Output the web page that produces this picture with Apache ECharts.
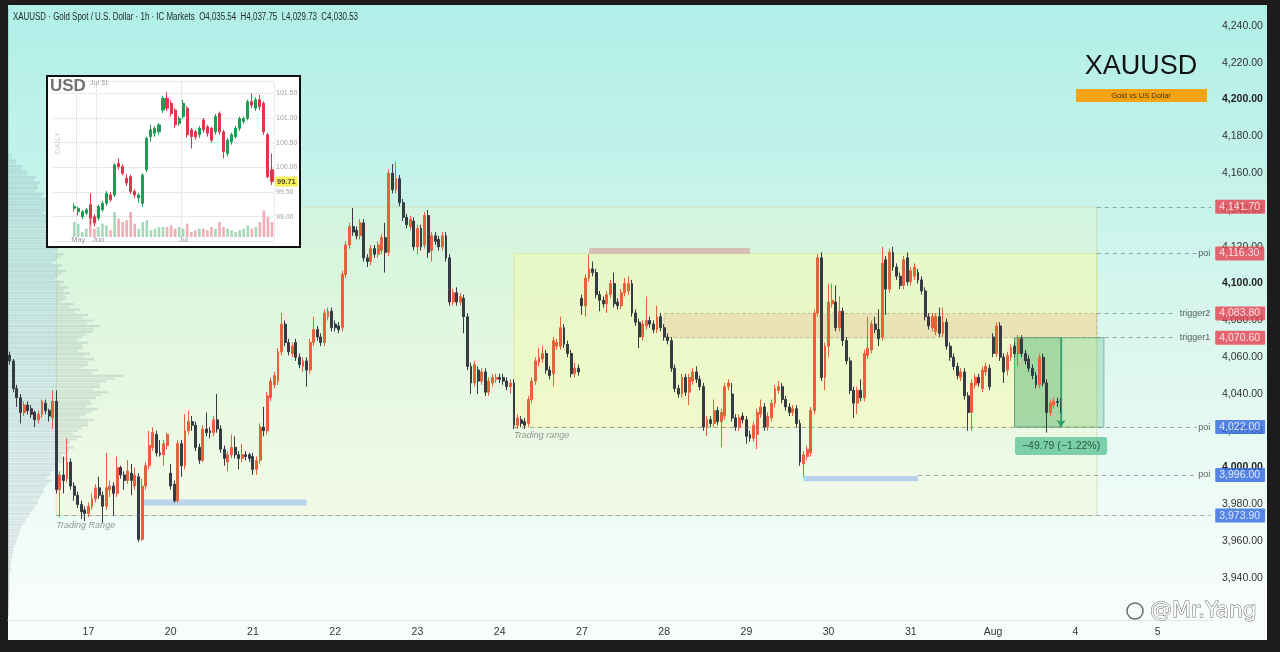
<!DOCTYPE html>
<html><head><meta charset="utf-8">
<script src="https://cdn.jsdelivr.net/npm/echarts/dist/echarts.min.js"></script>
<style>html,body{margin:0;padding:0;background:#1c1c1c;}#c{width:1280px;height:652px;}</style>
</head><body><div id="c"></div>
<script>
// ---------- DATA ----------
const days = ['16','17','20','21','22','23','24','27','28','29','30','31','Aug','4','5'];
const HOURS_PER_DAY = 23;
// hourly candles [open, close, low, high]
const d16 = [[4061,4058,4056,4063],[4058,4043,4041,4059],[4043,4038,4033,4045],[4038,4030,4024,4040],[4030,4034,4028,4036],[4034,4031,4029,4036],[4032,4029,4027,4034],[4030,4026,4022,4031],[4026,4029,4024,4031],[4029,4036,4027,4037],[4035,4031,4029,4037],[4031,4028,4025,4032],[4027,4036,4021,4042],[4036,3988,3986,4042],[3988,3996,3973,3998],[3996,3993,3986,4006],[3994,4003,3992,4016],[4003,3990,3988,4005],[3990,3985,3982,3992],[3985,3980,3978,3987],[3980,3976,3972,3982],[3977,3975,3971,3979]];
const d17 = [[3975,3979,3973,3981],[3979,3983,3977,3986],[3983,3989,3981,3991],[3989,3985,3983,3995],[3985,3979,3970,3987],[3979,3989,3977,4008],[3988,3990,3984,3993],[3990,3986,3974,3992],[3986,4000,3984,4006],[4000,3996,3994,4001],[3996,3993,3988,3998],[3993,3998,3991,4004],[3997,3993,3985,4002],[3990,3996,3988,4000],[3995,3961,3959.7,3997],[3961,3990,3960,3994],[3990,4001,3988,4003],[4001,4012,3999,4020],[4011,4019,4009,4022],[4018,4008,4006,4020],[4008,4007,4006,4015],[4007,4013,4001,4015],[4012,4018,4010,4019]];
const d20 = [[3997,3990,3988,4002],[3991,3982,3981,3993],[3982,4013,3981,4015],[4013,4001,3995,4015],[4001,4020,3999,4029],[4020,4025,4018,4031],[4025,4023,4020,4028],[4023,4011,4009,4025],[4011,4004,4002,4013],[4004,4021,4003,4023],[4021,4019,4017,4030],[4020,4019,4016,4022],[4019,4026,4017,4028],[4026,4021,4019,4040],[4021,4010,4008,4023],[4010,4005,4001,4012],[4003,4007,3998,4009],[4007,4011,4005,4018],[4011,4007,4005,4017],[4007,4005,3999,4009],[4005,4007,4003,4013],[4007,4006,4004,4009],[4007,4005,4003,4008]];
const d21 = [[4006,3999,3996,4008],[3999,4004,3996,4006],[4004,4022,4002,4024],[4022,4020,4017,4033],[4020,4039,4018,4041],[4038,4047,4036,4049],[4045,4050,4043,4052],[4047,4063,4045,4065],[4063,4078,4061,4084],[4078,4068,4066,4080],[4068,4063,4061,4070],[4062,4066,4060,4068],[4068,4060,4058,4070],[4060,4056,4054,4062],[4055,4058,4052,4060],[4058,4053,4044,4060],[4053,4068,4051,4070],[4068,4075,4066,4082],[4075,4071,4069,4077],[4071,4068,4066,4073],[4068,4084,4066,4086],[4082,4085,4080,4087],[4085,4076,4074,4087]];
const d22 = [[4078,4076,4074,4080],[4077,4075,4073,4079],[4076,4105,4074,4107],[4105,4121,4103,4123],[4121,4131,4119,4133],[4131,4128,4126,4141],[4129,4126,4124,4131],[4126,4133,4124,4135],[4133,4114,4112,4135],[4114,4112,4109,4116],[4112,4119,4110,4121],[4119,4116,4114,4121],[4116,4121,4114,4123],[4118,4125,4116,4127],[4125,4117,4106,4133],[4117,4160,4115,4162],[4160,4151,4149,4165],[4151,4157,4149,4166],[4157,4144,4142,4159],[4144,4136,4134,4146],[4136,4132,4130,4138],[4131,4135,4129,4137],[4134,4120,4118,4136]];
const d23 = [[4120,4130,4116,4132],[4130,4120,4118,4132],[4121,4137,4119,4139],[4137,4117,4114,4140],[4118,4126,4112,4128],[4126,4123,4121,4128],[4124,4120,4118,4126],[4120,4126,4118,4128],[4126,4114,4112,4128],[4114,4090,4088,4116],[4090,4095,4088,4097],[4095,4090,4088,4098],[4090,4093,4088,4095],[4092,4082,4073,4094],[4082,4055,4053,4084],[4055,4046,4040,4057],[4046,4056,4044,4058],[4053,4047,4040,4055],[4047,4052,4045,4054],[4052,4041,4039,4054],[4041,4047,4039,4049],[4046,4049,4044,4051],[4048,4049,4046,4051]];
const d24 = [[4049,4048,4046,4051],[4049,4047,4045,4051],[4047,4044,4042,4049],[4044,4046,4040,4048],[4046,4023,4021,4048],[4023,4027,4021,4029],[4026,4024,4022,4028],[4025,4023,4021,4027],[4024,4037,4022,4039],[4037,4047,4035,4049],[4047,4058,4045,4060],[4057,4060,4055,4065],[4059,4062,4057,4066],[4062,4053,4051,4064],[4053,4050,4048,4055],[4051,4069,4044,4071],[4066,4068,4064,4070],[4066,4076,4064,4082],[4076,4067,4065,4078],[4067,4062,4060,4069],[4062,4051,4049,4064],[4051,4054,4049,4057],[4054,4052,4050,4056]];
const d27 = [[4092,4088,4083,4094],[4088,4103,4082,4105],[4103,4108,4101,4116],[4108,4106,4104,4112],[4106,4094,4092,4108],[4094,4091,4085,4096],[4091,4089,4087,4093],[4089,4094,4084,4096],[4094,4100,4092,4102],[4100,4089,4087,4106],[4090,4088,4086,4092],[4088,4095,4086,4097],[4095,4100,4093,4103],[4096,4100,4094,4104],[4100,4084,4082,4102],[4084,4079,4077,4086],[4079,4071,4065,4081],[4071,4078,4069,4080],[4077,4080,4075,4093],[4080,4078,4076,4082],[4078,4075,4073,4080],[4075,4082,4073,4088],[4082,4076,4074,4084]];
const d28 = [[4076,4071,4069,4078],[4071,4069,4067,4073],[4069,4054,4052,4071],[4054,4043,4041,4056],[4043,4040,4038,4045],[4040,4049,4038,4051],[4049,4041,4039,4051],[4041,4049,4034,4051],[4047,4052,4045,4054],[4052,4048,4046,4055],[4048,4044,4042,4050],[4044,4022,4020,4046],[4022,4026,4017,4028],[4026,4024,4022,4028],[4024,4031,4022,4037],[4031,4025,4023,4033],[4025,4030,4011,4032],[4028,4044,4026,4046],[4044,4046,4042,4048],[4040,4027,4025,4046],[4027,4022,4020,4029],[4022,4027,4020,4029],[4028,4026,4024,4030]];
const d29 = [[4026,4017,4013,4028],[4018,4016,4014,4020],[4016,4023,4014,4025],[4018,4030,4010,4032],[4029,4033,4027,4037],[4033,4022,4020,4035],[4022,4028,4020,4030],[4027,4035,4025,4037],[4035,4043,4033,4045],[4042,4044,4040,4047],[4044,4037,4035,4046],[4037,4033,4031,4039],[4033,4030,4028,4035],[4030,4032,4028,4034],[4032,4024,4022,4034],[4024,4003,4001,4026],[4002,4007,3995,4009],[4006,4010,4004,4012],[4008,4031,4006,4033],[4031,4084,4029,4086],[4084,4114,4082,4116],[4114,4049,4047,4117],[4049,4066,4042,4068]];
const d30 = [[4066,4090,4060,4100],[4089,4091,4087,4100],[4090,4076,4074,4099],[4076,4085,4074,4093],[4085,4069,4066,4087],[4069,4058,4056,4071],[4058,4042,4040,4060],[4042,4035,4027,4044],[4035,4042,4029,4044],[4042,4038,4036,4048],[4038,4062,4036,4064],[4061,4065,4059,4082],[4064,4078,4062,4080],[4078,4075,4073,4082],[4075,4070,4066,4086],[4071,4111,4069,4120],[4113,4097,4083,4115],[4097,4117,4095,4119],[4117,4109,4107,4120],[4109,4104,4102,4111],[4104,4099,4097,4106],[4099,4113,4097,4115],[4114,4101,4099,4117]];
const d31 = [[4101,4107,4099,4109],[4104,4109,4102,4111],[4106,4102,4100,4108],[4102,4096,4094,4104],[4096,4082,4080,4098],[4082,4077,4075,4084],[4076,4082,4074,4084],[4074,4082,4072,4084],[4082,4073,4071,4087],[4073,4079,4071,4087],[4079,4066,4064,4081],[4066,4060,4058,4068],[4060,4055,4053,4062],[4055,4050,4048,4057],[4049,4052,4047,4054],[4052,4039,4037,4054],[4039,4030,4020,4041],[4030,4046,4020,4048],[4045,4049,4043,4051],[4049,4046,4044,4051],[4043,4053,4041,4055],[4052,4055,4050,4057],[4054,4044,4042,4056]];
const dAug = [[4071,4062,4060,4073],[4062,4077,4060,4079],[4077,4060,4058,4079],[4060,4052,4046,4062],[4053,4061,4050,4063],[4060,4065,4058,4067],[4066,4062,4060,4068],[4062,4070,4055,4072],[4070,4062,4060,4072],[4062,4058,4056,4064],[4059,4054,4052,4061],[4054,4050,4048,4056],[4050,4045,4043,4052],[4045,4060,4043,4062],[4060,4046,4044,4062],[4046,4030,4019,4048],[4030,4035,4028,4037],[4034,4036,4032,4038],[4036,4035.5,4033,4038],[4035.54,4030.53,4029.73,4037.75]];

// key levels
const levelPrices = [4141.70, 4116.30, 4083.80, 4070.60, 4022.00, 3996.00, 3973.90];
const levelTags   = ['', 'poi', 'trigger2', 'trigger1', 'poi', 'poi', ''];
const levelSides  = ['up','up','up','up','down','down','down'];
const levelFrom   = [304, 304, 304, 304, 141, 254, 13];

// measure tool
const measureText = '\u221249.79 (\u22121.22%)';

// volume profile (price level, volume)
const profileLevels = [4169,4166,4163,4160,4157,4154,4151,4148,4145,4142,4139,4136,4133,4130,4127,4124,4121,4118,4115,4112,4109,4106,4103,4100,4097,4094,4091,4088,4085,4082,4079,4076,4073,4070,4067,4064,4061,4058,4055,4052,4049,4046,4043,4040,4037,4034,4031,4028,4025,4022,4019,4016,4013,4010,4007,4004,4001,3998,3995,3992,3989,3986,3983,3980,3977,3974,3971,3968,3965,3962,3959,3956,3953,3950,3947,3944,3941,3938,3935,3932,3929,3926];
const profileVolume = [4,8,14,20,28,32,30,36,40,44,38,42,48,40,46,52,44,50,56,48,54,58,50,56,60,62,58,66,72,80,85,92,85,74,80,75,82,86,80,90,115,98,92,100,88,84,90,78,86,80,70,74,62,66,58,60,50,46,42,44,38,36,32,30,26,22,18,14,12,10,8,6,5,4,3,3,2,2,2,1,1,1];

// inset: USD index daily
const insetDates = ['05-22','05-23','05-27','05-28','05-29','05-30','06-02','06-03','06-04','06-05','06-06','06-09','06-10','06-11','06-12','06-13','06-16','06-17','06-18','06-19','06-20','06-23','06-24','06-25','06-26','06-27','06-30','07-01','07-02','07-03','07-04','07-07','07-08','07-09','07-10','07-11','07-14','07-15','07-16','07-17','07-18','07-21','07-22','07-23','07-24','07-25','07-28','07-29','07-30','07-31'];
const insetCandles = [[99.17,99.21,99.10,99.27],[99.10,99.17,99.02,99.20],[99.00,99.10,98.95,99.14],[99.07,99.14,99.03,99.18],[99.24,98.97,98.83,99.47],[99.00,98.87,98.80,99.05],[98.97,99.21,98.92,99.24],[99.14,99.27,99.10,99.32],[99.27,99.47,99.22,99.52],[99.44,99.34,99.30,99.50],[99.44,100.05,99.40,100.08],[100.08,100.01,99.95,100.18],[100.01,99.88,99.84,100.06],[99.78,99.68,99.62,99.86],[99.81,99.51,99.46,99.85],[99.51,99.44,99.38,99.56],[99.38,99.44,99.28,99.48],[99.27,99.84,99.20,99.88],[99.95,100.59,99.90,100.62],[100.62,100.76,100.52,100.86],[100.69,100.79,100.62,100.84],[100.72,100.86,100.66,100.90],[101.16,101.40,101.10,101.45],[101.40,101.20,101.14,101.53],[101.30,101.09,101.03,101.36],[101.16,100.86,100.80,101.20],[100.89,100.99,100.84,101.04],[101.03,101.30,100.98,101.37],[101.20,100.66,100.60,101.24],[100.76,100.62,100.38,100.80],[100.72,100.62,100.56,100.76],[100.66,100.79,100.60,100.84],[100.96,100.76,100.70,101.00],[100.82,100.69,100.62,100.86],[100.79,100.55,100.50,100.82],[100.72,101.03,100.66,101.08],[101.09,100.72,100.66,101.13],[100.72,100.32,100.18,100.76],[100.28,100.55,100.22,100.60],[100.52,100.66,100.46,100.70],[100.62,100.79,100.58,100.84],[100.79,100.99,100.74,101.03],[100.93,100.99,100.88,101.03],[100.99,101.33,100.95,101.37],[101.33,101.26,101.20,101.50],[101.20,101.37,101.14,101.42],[101.37,101.23,101.16,101.47],[101.30,100.72,100.66,101.34],[100.66,99.81,99.78,100.70],[99.95,99.71,99.64,100.28]];
const insetVolume = [45,40,15,25,60,25,30,40,35,20,75,55,45,50,75,40,25,45,50,20,25,30,30,30,35,25,30,25,40,15,20,25,25,20,30,25,45,30,25,20,15,20,25,35,25,30,45,80,60,45];
const insetMonthTicks = ['05-23','06-02','07-01'];
const monthNames = {'05':'May','06':'Jun','07':'Jul'};
const insetLast = 99.71;
const insetHigh = 101.56, insetLow = 99.15;

// ---------- BUILD ----------
const VISIBLE_SLOTS = 337;
const categories = [];
days.forEach((d, di) => {
  for (let h = (di === 0 ? 1 : 0); h < HOURS_PER_DAY; h++) categories.push(d + '|' + h);
});
const cats = categories.slice(0, VISIBLE_SLOTS);
const candles = [].concat(d16,d17,d20,d21,d22,d23,d24,d27,d28,d29,d30,d31,dAug);
const lastIdx = cats.length - 1;
const lastBar = candles.length - 1;

const fmt = v => Number(v).toLocaleString('en-US',{minimumFractionDigits:2,maximumFractionDigits:2});
const FONT = '"Liberation Sans", Arial, sans-serif';
const UP = '#e8603c', DOWN = '#363a42';
const RED_TAG = '#e6404f', BLUE_TAG = '#2f68e0';

const lc = candles[lastBar];
const titleText = 'XAUUSD \u00b7 Gold Spot / U.S. Dollar \u00b7 1h \u00b7 IC Markets  O' + fmt(lc[0]) + '  H' + fmt(lc[3]) + '  L' + fmt(lc[2]) + '  C' + fmt(lc[1]);
const TITLE_FONT = '10px ' + FONT;
const mctx = document.createElement('canvas').getContext('2d');
mctx.font = TITLE_FONT;
const titleScale = 345 / mctx.measureText(titleText).width;

const dash = {color:'rgba(115,128,132,0.65)', width:1, type:[4,4]};
const markLines = levelPrices.map((p, i) => {
  const t = levelTags[i];
  const end = t ? (t.length > 3 ? 326 : 332) : lastIdx;
  return [{coord:[levelFrom[i], p], lineStyle:dash}, {coord:[end, p]}];
});
markLines.push([{coord:[lastBar, levelPrices[3]], symbol:'none', lineStyle:{color:'#2a9d6a', width:1.2, type:'solid'}},
                {coord:[lastBar, levelPrices[4]], symbol:'arrow', symbolSize:7}]);

const markAreas = [
  [{coord:[13, levelPrices[0]], itemStyle:{color:'rgba(255,250,170,0.20)', borderColor:'rgba(185,185,120,0.7)', borderWidth:1, borderType:'dotted'}}, {coord:[304, levelPrices[6]]}],
  [{coord:[141, levelPrices[1]], itemStyle:{color:'rgba(250,250,170,0.42)', borderColor:'rgba(215,215,110,0.9)', borderWidth:1, borderType:'dotted'}}, {coord:[304, levelPrices[4]]}],
  [{coord:[183, levelPrices[2]], itemStyle:{color:'rgba(232,196,155,0.42)', borderColor:'rgba(175,160,140,0.6)', borderWidth:1, borderType:'dashed'}}, {coord:[304, levelPrices[3]]}],
  [{coord:[162, 4119.3], itemStyle:{color:'rgba(212,165,155,0.65)'}}, {coord:[207, 4116.2]}],
  [{coord:[37, 3982.6], itemStyle:{color:'rgba(170,198,238,0.75)'}}, {coord:[83, 3979.4]}],
  [{coord:[222, 3995.5], itemStyle:{color:'rgba(170,198,238,0.8)'}}, {coord:[254, 3992.6]}],
  [{coord:[281, levelPrices[3]], itemStyle:{color:'rgba(45,160,100,0.38)', borderColor:'rgba(40,140,95,0.7)', borderWidth:1}}, {coord:[lastBar, levelPrices[4]]}],
  [{coord:[lastBar, levelPrices[3]], itemStyle:{color:'rgba(60,175,115,0.24)', borderColor:'rgba(40,140,95,0.5)', borderWidth:1}}, {coord:[306, levelPrices[4]]}]
];

const badgeData = levelPrices.map((p, i) => ({
  value:[lastIdx, p],
  label:{backgroundColor: levelSides[i] === 'up' ? RED_TAG : BLUE_TAG}
}));
const tagData = levelPrices.map((p, i) => levelTags[i] ? [lastIdx, p, levelTags[i]] : null).filter(Boolean);

const INSET_PAD = 5;
const insetCats = [];
for (let i = 0; i < INSET_PAD; i++) insetCats.push('pad' + i);
insetDates.forEach(d => insetCats.push(d));
const insetK = Array(INSET_PAD).fill('-').concat(insetCandles);
const insetV = Array(INSET_PAD).fill('-').concat(insetVolume.map((v, i) => ({
  value: v,
  itemStyle:{color: insetCandles[i][1] >= insetCandles[i][0] ? 'rgba(40,160,90,0.42)' : 'rgba(225,60,80,0.42)'}
})));
const insetLastCat = insetCats.length - 1;

const chart = echarts.init(document.getElementById('c'), null, {renderer:'canvas'});
const bgGrad = new echarts.graphic.LinearGradient(0,0,0,1,[
  {offset:0, color:'#b0efe8'},{offset:0.3, color:'#c6f3ea'},{offset:0.55, color:'#dbf7ee'},{offset:0.8, color:'#eefbf6'},{offset:1, color:'#f8fdfc'}]);

chart.setOption({
  animation:false,
  backgroundColor:'#1c1c1c',
  grid:[
    {left:8, width:1205, top:7.6, height:607.2, outerBoundsMode:'none', containLabel:false},
    {left:52, width:222, top:81, height:160.3, outerBoundsMode:'none', containLabel:false}
  ],
  xAxis:[
    {type:'category', gridIndex:0, data:cats, boundaryGap:true, offset:5,
     axisLine:{show:true, lineStyle:{color:'#dfe6e6'}}, axisTick:{show:false},
     axisLabel:{interval:(i, v) => v.split('|')[1] === '0', formatter:v => v.split('|')[0], color:'#333', fontSize:10.5, fontFamily:FONT, margin:7},
     splitLine:{show:false}},
    {type:'value', gridIndex:0, min:0, max:1205, show:false},
    {type:'category', gridIndex:1, data:insetCats, boundaryGap:true, z:11,
     axisLine:{show:false}, axisTick:{show:false},
     axisLabel:{interval:(i, v) => insetMonthTicks.indexOf(v) >= 0, formatter:v => monthNames[v.slice(0,2)] || '', color:'#9a9a9a', fontSize:7.5, fontFamily:FONT, margin:-5},
     splitLine:{show:true, interval:(i, v) => insetMonthTicks.indexOf(v) >= 0, lineStyle:{color:'#d6d6d6', type:'dotted'}}}
  ],
  yAxis:[
    {type:'value', gridIndex:0, position:'right', min:3920, max:4250, interval:20, scale:true,
     axisLine:{show:true, lineStyle:{color:'rgba(140,165,165,0.35)'}}, axisTick:{show:false}, splitLine:{show:false},
     axisLabel:{showMinLabel:false, showMaxLabel:false, margin:9, fontFamily:FONT,
       formatter:v => (v % 100 === 0 ? '{b|' : '{n|') + fmt(v) + '}',
       rich:{b:{fontWeight:'bold', fontSize:10.5, color:'#222', fontFamily:FONT}, n:{fontSize:10.5, color:'#333', fontFamily:FONT}}}},
    {type:'value', gridIndex:1, position:'right', min:98.5, max:101.75, interval:0.5, z:11,
     axisLine:{show:false}, axisTick:{show:false},
     axisLabel:{showMinLabel:false, showMaxLabel:false, margin:2, color:'#a0a0a0', fontSize:7, fontFamily:FONT, formatter:v => v.toFixed(2)},
     splitLine:{show:true, lineStyle:{color:'#d6d6d6', type:'dotted'}}},
    {type:'value', gridIndex:1, min:-13, max:468, show:false}
  ],
  graphic:[
    {type:'rect', z:-10, shape:{x:8, y:5, width:1259, height:615}, style:{fill:bgGrad}},
    {type:'rect', z:-9, shape:{x:8, y:620, width:1259, height:20}, style:{fill:'#f9fcfc'}},
    {type:'text', z:5, x:13, y:17, scaleX:titleScale, scaleY:1, style:{text:titleText, font:TITLE_FONT, fill:'#1e2626', textVerticalAlign:'middle'}},
    {type:'text', z:5, x:1141, y:67, style:{text:'XAUUSD', font:'27px ' + FONT, fill:'#111', textAlign:'center', textVerticalAlign:'middle'}},
    {type:'rect', z:5, shape:{x:1076, y:89, width:131, height:13}, style:{fill:'#f5a312'}},
    {type:'text', z:6, x:1141, y:95.5, style:{text:'Gold vs US Dollar', font:'7.5px ' + FONT, fill:'#4a3205', textAlign:'center', textVerticalAlign:'middle'}},
    {type:'rect', z:10, shape:{x:47, y:76, width:253, height:171}, style:{fill:'#ffffff', stroke:'#111', lineWidth:2}},
    {type:'text', z:13, x:50, y:86, style:{text:'USD', font:'bold 17px ' + FONT, fill:'#707070', textVerticalAlign:'middle'}},
    {type:'text', z:13, x:90, y:83, style:{text:'Jul 31', font:'7px ' + FONT, fill:'#999', textVerticalAlign:'middle'}},
    {type:'text', z:13, x:58, y:143, rotation:Math.PI/2, style:{text:'DAILY', font:'8px ' + FONT, fill:'#cccccc', textAlign:'center', textVerticalAlign:'middle'}},
    {type:'circle', z:20, shape:{cx:1135, cy:611, r:8}, style:{fill:'none', stroke:'#6a6a6a', lineWidth:1.5}},
    {type:'text', z:20, x:1150, y:611, style:{text:'@Mr.Yang', font:'22px "DejaVu Sans", sans-serif', fill:'rgba(255,255,255,0.95)', stroke:'#6a6a6a', lineWidth:1, textVerticalAlign:'middle'}}
  ],
  series:[
    {type:'custom', name:'profile', xAxisIndex:1, yAxisIndex:0, z:1, silent:true,
     data: profileLevels.map((p, i) => [profileVolume[i], p]),
     encode:{x:0, y:1},
     renderItem:(params, api) => {
       const v = api.value(0), p = api.value(1);
       const a = api.coord([0, p + 1.5]), b = api.coord([v, p - 1.5]);
       const h = b[1] - a[1];
       return {type:'group', children:[
         {type:'rect', shape:{x:a[0], y:a[1], width:b[0]-a[0], height:h/2 - 0.4}, style:{fill:'rgba(105,130,145,0.20)'}},
         {type:'rect', shape:{x:a[0], y:a[1] + h/2, width:(b[0]-a[0]) * 0.93, height:h/2 - 0.4}, style:{fill:'rgba(105,130,145,0.16)'}}
       ]};
     }},
    {type:'candlestick', name:'XAUUSD', xAxisIndex:0, yAxisIndex:0, z:3, data:candles, barWidth:2.4,
     itemStyle:{color:UP, color0:DOWN, borderColor:UP, borderColor0:DOWN, borderWidth:1},
     markArea:{silent:true, label:{show:false}, data:markAreas},
     markLine:{silent:true, symbol:['none','none'], label:{show:false}, data:markLines}},
    {type:'scatter', name:'badges', xAxisIndex:0, yAxisIndex:0, z:6, symbolSize:0, silent:true, data:badgeData,
     label:{show:true, position:'right', distance:4, formatter:p => fmt(p.value[1]), color:'#fff', fontSize:10.5, fontFamily:FONT,
            padding:[2,5,1,4], borderRadius:1}},
    {type:'scatter', name:'tags', xAxisIndex:0, yAxisIndex:0, z:6, symbolSize:0, silent:true, data:tagData,
     label:{show:true, position:'left', distance:1, formatter:p => p.data[2], color:'#333', fontSize:9, fontFamily:FONT}},
    {type:'scatter', name:'notes', xAxisIndex:0, yAxisIndex:0, z:6, symbolSize:0, silent:true,
     data:[[13, 3968.6, 'Trading Range'], [141, 4017.6, 'Trading range']],
     label:{show:true, position:'right', distance:0, formatter:p => p.data[2], color:'#7a7a7a', fontStyle:'italic', fontSize:9, fontFamily:FONT}},
    {type:'scatter', name:'measure', xAxisIndex:0, yAxisIndex:0, z:7, symbolSize:0, silent:true,
     data:[[lastBar, 4011.8, measureText]],
     label:{show:true, position:'inside', formatter:p => p.data[2], color:'#12382a', fontSize:10.5, fontFamily:FONT,
            backgroundColor:'#62c49a', padding:[4,7,3,7], borderRadius:3}},
    {type:'bar', name:'dxyVol', xAxisIndex:2, yAxisIndex:2, z:11, data:insetV, barWidth:2.6, silent:true},
    {type:'candlestick', name:'DXY', xAxisIndex:2, yAxisIndex:1, z:12, data:insetK, barWidth:2.6, silent:true,
     itemStyle:{color:'#1f9d55', color0:'#e0354b', borderColor:'#1f9d55', borderColor0:'#e0354b', borderWidth:1},
     markLine:{silent:true, symbol:['none','none'], label:{show:false},
       data:[[{coord:[INSET_PAD + 22, insetHigh], lineStyle:{color:'#e24a5a', width:1.2, type:'solid'}}, {coord:[insetLastCat, insetHigh]}],
             [{coord:[INSET_PAD + 10, insetLow], lineStyle:{color:'#5b8fd6', width:1.2, type:'solid'}}, {coord:[insetLastCat, insetLow]}]]}},
    {type:'scatter', name:'dxyLast', xAxisIndex:2, yAxisIndex:1, z:13, symbolSize:0, silent:true,
     data:[[insetLastCat, insetLast]],
     label:{show:true, position:'right', distance:3, formatter:p => p.data[1].toFixed(2), color:'#222', fontWeight:'bold', fontSize:7.5,
            fontFamily:FONT, backgroundColor:'#f3ec2e', padding:[1,2]}}
  ]
});
</script></body></html>
